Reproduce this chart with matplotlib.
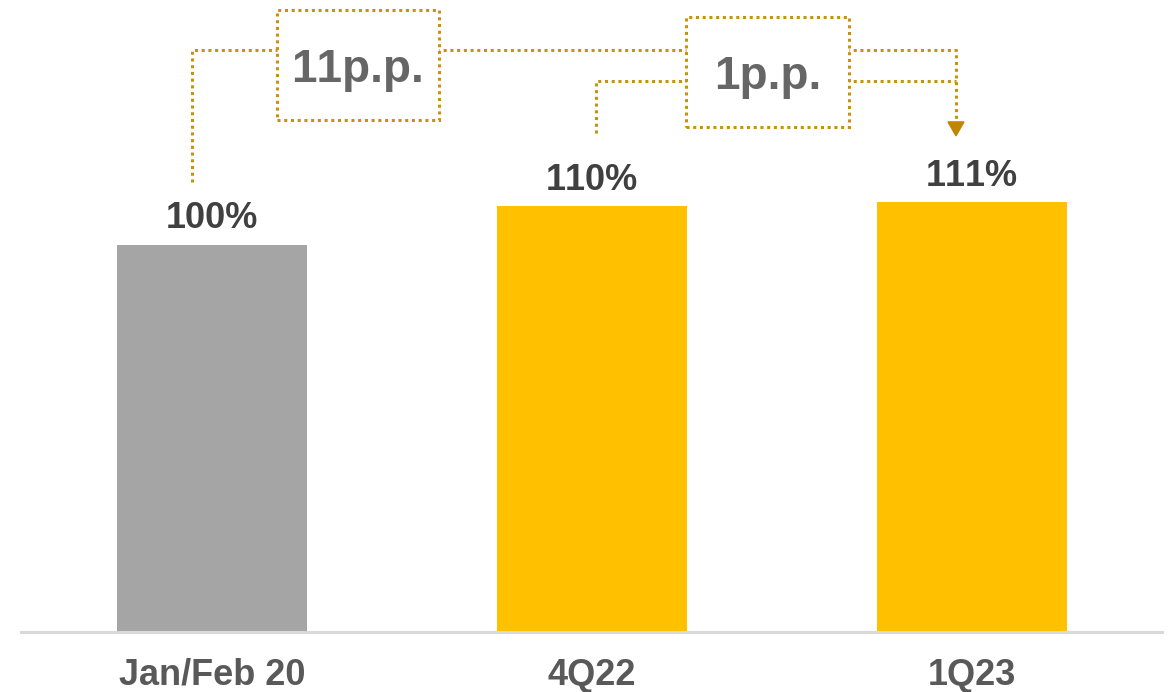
import matplotlib.pyplot as plt
from matplotlib.patches import Rectangle

plt.rcParams['font.family'] = ['Liberation Sans', 'DejaVu Sans']
plt.rcParams['text.kerning_factor'] = 8  # no kerning, so "11" is not squeezed

categories = ['Jan/Feb 20', '4Q22', '1Q23']
values = [100, 110, 111]
labels = ['100%', '110%', '111%']
colors = ['#A5A5A5', '#FFC000', '#FFC000']
changes = ['11p.p.', '1p.p.']

fig = plt.figure(figsize=(11.68, 6.92), dpi=100)
ax = fig.add_axes([0, 60 / 692, 1, 632 / 692])
ax.set_xlim(-0.558, 2.516)
ax.set_ylim(0, 163.3)

x = list(range(len(categories)))
ax.bar(x, values, width=0.5, color=colors, zorder=2)
for xi, v, lab in zip(x, values, labels):
    ax.text(xi, v + 4.3, lab, ha='center', va='baseline', fontsize=26,
            fontweight='bold', color='#404040')

# baseline
ax.plot([-0.503, 2.500], [0, 0], color='#D9D9D9', lw=2.2, clip_on=False, zorder=3)
for s in ax.spines.values():
    s.set_visible(False)
ax.set_yticks([])
ax.set_xticks(x)
ax.set_xticklabels(categories, fontsize=26, fontweight='bold', color='#595959')
ax.tick_params(axis='x', length=0, pad=18.5)

line_c = '#C8920F'
dot = dict(color=line_c, lw=2.2, ls=(0, (1, 1.2)), zorder=3)

# connector lines for the changes
ax.plot([-0.053, -0.053, 1.958, 1.958], [116.3, 150.4, 150.4, 131.5], **dot)
ax.plot([1.010, 1.010, 1.958], [128.9, 142.4, 142.4], **dot)
ax.fill([1.937, 1.979, 1.958], [131.8, 131.8, 128.2], color='#C08600', zorder=4)

# change boxes
boxes = [(0.171, 132.3, 0.426, 28.4), (1.247, 130.5, 0.429, 28.4)]
for (bx, by, bw, bh), txt in zip(boxes, changes):
    ax.add_patch(Rectangle((bx, by), bw, bh, facecolor='white', edgecolor=line_c,
                           lw=2.2, ls=(0, (1, 1.2)), zorder=5))
    ax.text(bx + bw / 2, by + bh / 2, txt, ha='center', va='center_baseline',
            fontsize=33, fontweight='bold', color='#666666', zorder=6)

fig.savefig('out.png', dpi=100)
